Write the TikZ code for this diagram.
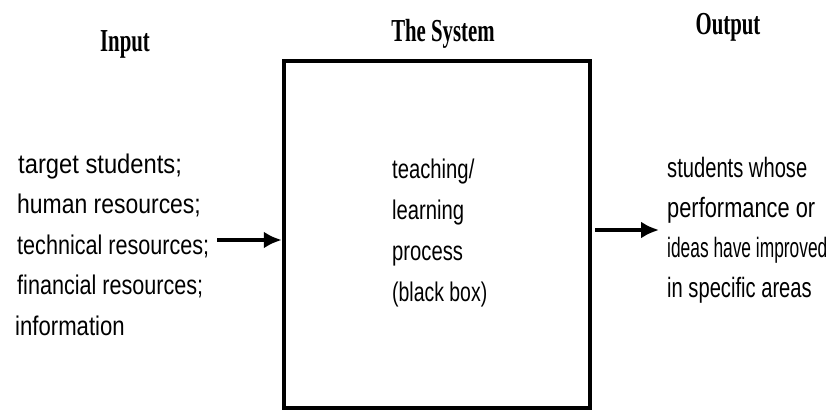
\documentclass[tikz,border=0pt]{standalone}
\usepackage{fontspec}
\usepackage{graphicx}
\setmainfont{Liberation Sans}
\newfontfamily\headfont{Liberation Serif}
\usetikzlibrary{arrows.meta}
\newcommand\narrow[2]{\scalebox{#1}[1]{#2}}
\tikzset{
  head/.style={inner sep=0pt, anchor=base, font=\headfont\bfseries\fontsize{32}{36}\selectfont},
  lefttxt/.style={inner sep=0pt, anchor=base west, font=\fontsize{27}{30}\selectfont},
  midtxt/.style={inner sep=0pt, anchor=base west, font=\fontsize{27}{30}\selectfont},
  righttxt/.style={inner sep=0pt, anchor=base west, font=\fontsize{28}{30}\selectfont},
  sysbox/.style={draw, line width=4.5pt, minimum width=306pt, minimum height=347pt, inner sep=0pt},
  arr/.style={line width=4pt, -{Latex[length=18pt,width=17pt]}}
}
\begin{document}
\begin{tikzpicture}[x=1pt,y=-1pt]
\useasboundingbox (0,0) rectangle (827,412);
% headings
\node[head] (hin) at (125,52) {\narrow{0.65}{Input}};
\node[head] (hsys) at (443,42) {\narrow{0.65}{The System}};
\node[head] (hout) at (728,35) {\narrow{0.65}{Output}};
% system box
\node[sysbox] (box) at (437,234.5) {};
% input text
\node[lefttxt] (l1) at (18,173) {\narrow{0.88}{target students;}};
\node[lefttxt] (l2) at (17,213.5) {\narrow{0.85}{human resources;}};
\node[lefttxt] (l3) at (17,254) {\narrow{0.8}{technical resources;}};
\node[lefttxt] (l4) at (17,294.5) {\narrow{0.8}{financial resources;}};
\node[lefttxt] (l5) at (15,335) {\narrow{0.82}{information}};
% middle text
\node[midtxt] (m1) at (392,178) {\narrow{0.75}{teaching/}};
\node[midtxt] (m2) at (392,219) {\narrow{0.75}{learning}};
\node[midtxt] (m3) at (392,260) {\narrow{0.75}{process}};
\node[midtxt] (m4) at (392,301) {\narrow{0.72}{(black box)}};
% output text
\node[righttxt] (r1) at (667,177) {\narrow{0.72}{students whose}};
\node[righttxt] (r2) at (667,217) {\narrow{0.78}{performance or}};
\node[righttxt] (r3) at (667,257) {\narrow{0.62}{ideas have improved}};
\node[righttxt] (r4) at (667,297) {\narrow{0.72}{in specific areas}};
% arrows
\coordinate (a1) at (217,240);
\coordinate (a2) at (659,230);
\draw[arr] (a1) -- (box.west |- a1);
\draw[arr] ([xshift=3pt]box.east |- a2) -- (a2);
\end{tikzpicture}
\end{document}
